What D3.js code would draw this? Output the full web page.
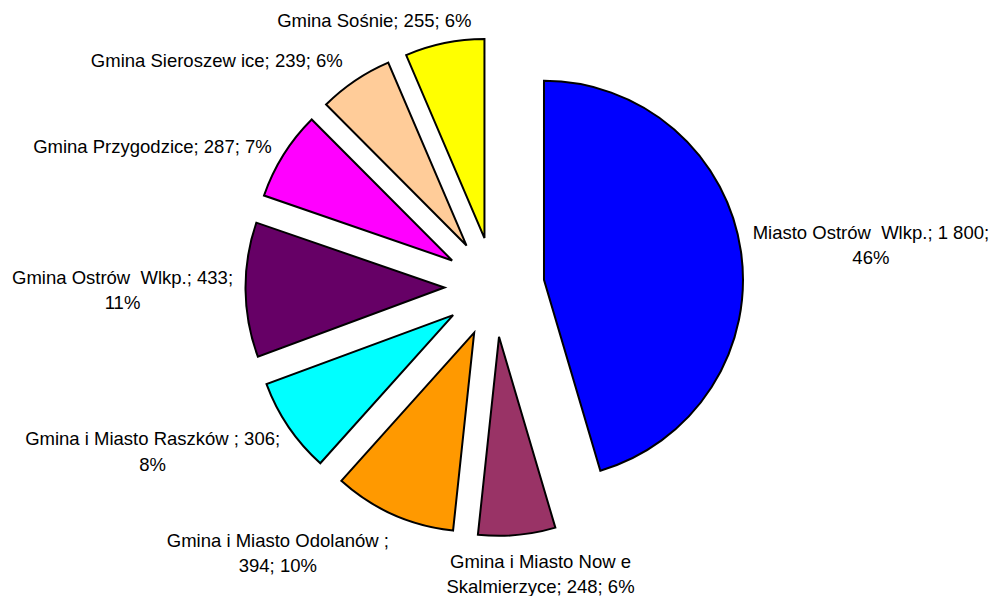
<!DOCTYPE html>
<html>
<head>
<meta charset="utf-8">
<script src="https://cdn.jsdelivr.net/npm/d3@7"></script>
<style>
  html, body { margin: 0; padding: 0; background: #fff; }
  #chart { width: 994px; height: 596px; }
  text { font-family: "Liberation Sans", Arial, sans-serif; }
</style>
</head>
<body>
<div id="chart"></div>
<script>
// Slices, clockwise from 12 o'clock
const names = [
  "Miasto Ostrów  Wlkp.",
  "Gmina i Miasto Now e\nSkalmierzyce",
  "Gmina i Miasto Odolanów ",
  "Gmina i Miasto Raszków ",
  "Gmina Ostrów  Wlkp.",
  "Gmina Przygodzice",
  "Gmina Sieroszew ice",
  "Gmina Sośnie"
]
const values = [1800, 248, 394, 306, 433, 287, 239, 255]
const percents = ["46%", "6%", "10%", "8%", "11%", "7%", "6%", "6%"]
const colors = ["#0000ff", "#993366", "#ff9900", "#00ffff", "#660066", "#ff00ff", "#ffcc99", "#ffff00"]
// where the label wraps: after the name, after the value, or not at all
const wraps = ["value", "", "name", "value", "value", "", "", ""]

const width = 994
const height = 596
const cx = 494.5, cy = 287
const radius = 199
const explode = 50
const fontSize = 18.5
const lineH = 25.5

// label nudges from the slice's outer point (center of first baseline)
const labelNudge = [[124, -12], [23, 27], [-113, 27], [-131, 15], [-117, -6], [-126, 1], [-135, -9], [-69, -10]]

const fmt = d3.formatLocale({ decimal: ",", thousands: " ", grouping: [3], currency: ["", ""] }).format(",")

const svg = d3.select("#chart").append("svg")
  .attr("width", width)
  .attr("height", height)

const pie = d3.pie().sort(null).value(d => d)
const arcs = pie(values)
const arc = d3.arc().innerRadius(0).outerRadius(radius)

const g = svg.append("g").attr("transform", `translate(${cx},${cy})`)

arcs.forEach((a, i) => {
  const mid = (a.startAngle + a.endAngle) / 2
  const dx = Math.sin(mid) * explode
  const dy = -Math.cos(mid) * explode

  g.append("path")
    .attr("d", arc(a))
    .attr("transform", `translate(${dx},${dy})`)
    .attr("fill", colors[i])
    .attr("stroke", "#000")
    .attr("stroke-width", 2)
    .attr("stroke-linejoin", "miter")

  // label
  const px = Math.sin(mid) * (radius + explode + 6)
  const py = -Math.cos(mid) * (radius + explode + 6)
  const lx = px + labelNudge[i][0]
  const ly = py + labelNudge[i][1]

  const text = names[i] + ";" + (wraps[i] === "name" ? "\n" : " ") +
    fmt(values[i]) + ";" + (wraps[i] === "value" ? "\n" : " ") + percents[i]
  const lines = text.split("\n")

  const t = g.append("text")
    .attr("x", lx)
    .attr("y", ly)
    .attr("text-anchor", "middle")
    .attr("font-size", fontSize)
    .attr("fill", "#000")
    .style("white-space", "pre")

  lines.forEach((ln, li) => {
    t.append("tspan")
      .attr("x", lx)
      .attr("y", ly + li * lineH)
      .text(ln)
  })
})
</script>
</body>
</html>
